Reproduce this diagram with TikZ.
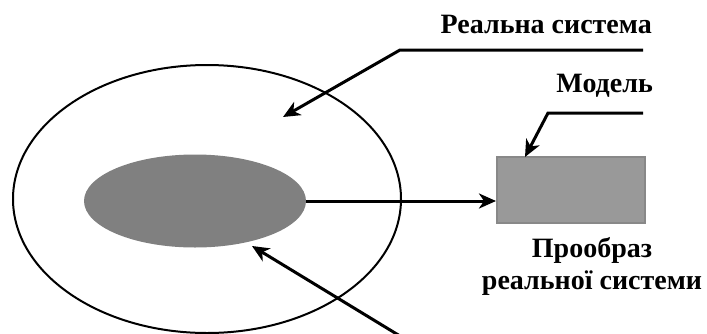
\documentclass[tikz,border=0pt]{standalone}
\usepackage{fontspec}
\setmainfont{Liberation Serif}
\usetikzlibrary{shapes.geometric,arrows.meta}
\definecolor{coregray}{HTML}{808080}
\definecolor{modelfill}{HTML}{999999}
\definecolor{modeledge}{HTML}{888888}
\tikzset{
  label text/.style={font=\fontsize{28}{32}\selectfont\bfseries, inner sep=0pt},
  pointer/.style={line width=3pt, -{Stealth[length=17pt,width=15pt,inset=5pt]}},
}
\begin{document}
\begin{tikzpicture}[x=1pt,y=-1pt]
  \useasboundingbox (0,0) rectangle (707,333);

  % real system and the part of it that is modelled
  \node[ellipse, draw, line width=2pt, minimum width=388pt, minimum height=268pt, inner sep=0pt]
    (system) at (207,199) {};
  \node[ellipse, fill=coregray, minimum width=222pt, minimum height=93pt, inner sep=0pt]
    (core) at (195,201) {};

  % the model
  \node[rectangle, fill=modelfill, draw=modeledge, line width=1.5pt,
        minimum width=148pt, minimum height=66pt, inner sep=0pt, anchor=north west]
    (model) at (496,156) {};

  % captions
  \node[label text, anchor=base east] (lblsystem) at (652,33) {Реальна система};
  \node[label text, anchor=base east] (lblmodel) at (653,92) {Модель};
  \node[label text, anchor=base, align=center] (lblpre) at (592,289)
    {Прообраз\\реальної системи};

  % leader lines
  \coordinate (sysend) at (643,50);
  \coordinate (sysbend) at (400,50);
  \coordinate (systip) at (283,117);
  \coordinate (modend) at (643,113);
  \coordinate (modbend) at (548,113);
  \coordinate (modtip) at (525,157);
  \coordinate (prestart) at (400,336);
  \coordinate (pretip) at (252,246);

  \draw[pointer] (sysend) -- (sysbend) -- (systip);
  \draw[pointer] (modend) -- (modbend) -- (modtip);
  \draw[pointer] (core.east) -- (core.east -| model.west);
  \draw[pointer] (prestart) -- (pretip);
\end{tikzpicture}
\end{document}
